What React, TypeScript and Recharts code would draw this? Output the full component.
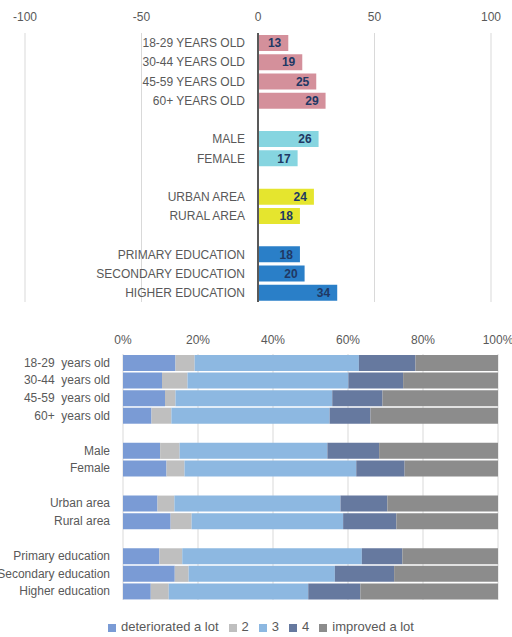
import React from "react"
import {
  BarChart,
  Bar,
  XAxis,
  YAxis,
  CartesianGrid,
  Cell,
  LabelList,
  Legend,
  ReferenceLine,
} from "recharts"

const FONT = "'Liberation Sans', Arial, sans-serif"
const TEXT = "#595959"
const GRID = "#D9D9D9"

// top chart: net balance by group
const topLabels = [
  "18-29  YEARS OLD",
  "30-44  YEARS OLD",
  "45-59  YEARS OLD",
  "60+  YEARS OLD",
  " ",
  "MALE",
  "FEMALE",
  "  ",
  "URBAN AREA",
  "RURAL AREA",
  "   ",
  "PRIMARY EDUCATION",
  "SECONDARY EDUCATION",
  "HIGHER EDUCATION",
]
const topValues = [13, 19, 25, 29, null, 26, 17, null, 24, 18, null, 18, 20, 34]
const topColors = [
  "#D4909B", "#D4909B", "#D4909B", "#D4909B", "none",
  "#86D5E0", "#86D5E0", "none",
  "#E5E52E", "#E5E52E", "none",
  "#2A7FC8", "#2A7FC8", "#2A7FC8",
]
const topTicks = [-100, -50, 0, 50, 100]

// bottom chart: distribution of answers (%)
const bottomLabels = [
  "18-29  years old",
  "30-44  years old",
  "45-59  years old",
  "60+  years old",
  " ",
  "Male",
  "Female",
  "  ",
  "Urban area",
  "Rural area",
  "   ",
  "Primary education",
  "Secondary education",
  "Higher education",
]
const deteriorated = [14, 10.4, 11.2, 7.6, null, 9.9, 11.6, null, 9.2, 12.7, null, 9.7, 13.8, 7.4]
const two = [5.1, 6.8, 2.8, 5.3, null, 5.2, 4.8, null, 4.5, 5.6, null, 6.1, 3.7, 4.8]
const three = [43.8, 42.9, 41.8, 42.2, null, 39.4, 45.8, null, 44.3, 40.4, null, 47.9, 39, 37.2]
const four = [15.1, 14.6, 13.4, 10.9, null, 13.8, 12.9, null, 12.5, 14.2, null, 10.8, 15.8, 13.9]
const improved = [22, 25.3, 30.8, 34, null, 31.7, 24.9, null, 29.5, 27.1, null, 25.5, 27.7, 36.7]
const bottomTicks = [0, 0.2, 0.4, 0.6, 0.8, 1]

const bottomSeries = [
  { key: "det", name: "deteriorated a lot", values: deteriorated, color: "#7A9BD5" },
  { key: "two", name: "2", values: two, color: "#BFBFBF" },
  { key: "three", name: "3", values: three, color: "#8DB8E1" },
  { key: "four", name: "4", values: four, color: "#66799F" },
  { key: "imp", name: "improved a lot", values: improved, color: "#8C8C8C" },
]

const topData = topLabels.map((label, i) => ({ label, value: topValues[i] }))
const bottomData = bottomLabels.map((label, i) => {
  const row: Record<string, any> = { label }
  bottomSeries.forEach((s) => (row[s.key] = s.values[i]))
  return row
})

// plain svg text so long labels are not wrapped
const CategoryTick = (props: any) => {
  const { x, y, payload } = props
  return (
    <text
      x={x}
      y={y}
      dy={4}
      textAnchor="end"
      fill={TEXT}
      fontSize={12}
      style={{ whiteSpace: "pre" }}
    >
      {payload.value}
    </text>
  )
}

export default function App() {
  return (
    <div style={{ position: "absolute", left: 0, top: 0, width: 512, height: 637, fontFamily: FONT }}>
      <BarChart
        width={512}
        height={310}
        data={topData}
        layout="vertical"
        margin={{ top: 0, right: 21, bottom: 8, left: 25 }}
      >
        <CartesianGrid horizontal={false} stroke={GRID} />
        <XAxis
          type="number"
          orientation="top"
          domain={[-100, 100]}
          ticks={topTicks}
          height={33}
          axisLine={false}
          tickLine={false}
          tickSize={0}
          tickMargin={12}
          tick={{ fill: TEXT, fontSize: 12 }}
        />
        <YAxis type="category" dataKey="label" hide />
        <ReferenceLine x={0} stroke={TEXT} strokeWidth={2} />
        <Bar dataKey="value" barSize={16} isAnimationActive={false}>
          {topData.map((d, i) => (
            <Cell key={i} fill={topColors[i]} />
          ))}
          <LabelList
            dataKey="label"
            position="left"
            offset={13}
            fill={TEXT}
            fontSize={12}
            style={{ whiteSpace: "pre" }}
          />
          <LabelList
            dataKey="value"
            position="insideRight"
            offset={7}
            fill="#203864"
            fontSize={12}
            fontWeight="bold"
          />
        </Bar>
      </BarChart>

      <BarChart
        width={512}
        height={327}
        data={bottomData}
        layout="vertical"
        stackOffset="expand"
        margin={{ top: 0, right: 14, bottom: 22, left: 0 }}
      >
        <CartesianGrid horizontal={false} stroke={GRID} />
        <XAxis
          type="number"
          orientation="top"
          domain={[0, 1]}
          ticks={bottomTicks}
          tickFormatter={(v) => `${Math.round(v * 100)}%`}
          height={44}
          axisLine={false}
          tickLine={false}
          tickSize={0}
          tickMargin={10}
          tick={{ fill: TEXT, fontSize: 12 }}
        />
        <YAxis
          type="category"
          dataKey="label"
          width={123}
          axisLine={false}
          tickLine={false}
          tickSize={0}
          tickMargin={13}
          interval={0}
          tick={<CategoryTick />}
        />
        <Legend
          verticalAlign="bottom"
          iconType="square"
          iconSize={8}
          itemSorter={(item: any) => bottomSeries.findIndex((s) => s.name === item.value)}
          wrapperStyle={{ fontSize: 13, bottom: 3, left: 17 }}
          formatter={(value) => <span style={{ color: TEXT, paddingLeft: 1 }}>{value}</span>}
        />
        {bottomSeries.map((s) => (
          <Bar
            key={s.key}
            dataKey={s.key}
            name={s.name}
            stackId="a"
            fill={s.color}
            barSize={16}
            isAnimationActive={false}
          />
        ))}
      </BarChart>
    </div>
  )
}
